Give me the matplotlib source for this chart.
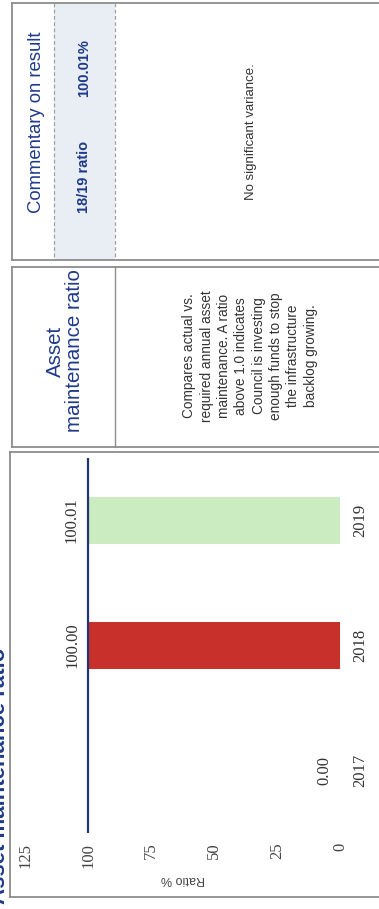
import matplotlib
matplotlib.use('Agg')
import matplotlib.pyplot as plt
from matplotlib.lines import Line2D
from matplotlib.patches import Rectangle

# Asset maintenance ratio by year (%)
years = ['2017', '2018', '2019']
ratios = [0.00, 100.00, 100.01]
target = 100
bar_colors = ['#c8312b', '#c8312b', '#cbebc0']
value_ticks = [0, 25, 50, 75, 100, 125]

title = 'Asset maintenance ratio'
measure_name = 'Asset\nmaintenance ratio'
description = ('Compares actual vs.\nrequired annual asset\nmaintenance. A ratio\n'
               'above 1.0 indicates\nCouncil is investing\nenough funds to stop\n'
               'the infrastructure\nbacklog growing.')
commentary_header = 'Commentary on result'
result_label = '18/19 ratio'
result_value = '100.01%'
commentary = 'No significant variance.'

W, H = 379, 909
NAVY = '#1f3a8a'
BORDER = '#8c8c8c'


def fx(x):
    return x / W


def fy(y):
    return 1 - y / H


def vline(fig, x, y0, y1, **kw):
    fig.add_artist(Line2D([fx(x), fx(x)], [fy(y0), fy(y1)], transform=fig.transFigure, **kw))


def hline(fig, y, x0, x1, **kw):
    fig.add_artist(Line2D([fx(x0), fx(x1)], [fy(y), fy(y)], transform=fig.transFigure, **kw))


def box(fig, x0, y0, x1, y1, **kw):
    vline(fig, x0, y0, y1, **kw)
    hline(fig, y0, x0, x1, **kw)
    hline(fig, y1, x0, x1, **kw)


fig = plt.figure(figsize=(W / 100, H / 100), dpi=100)
fig.patch.set_facecolor('white')

# panel outlines (page is turned on its side, right edges run off the page)
box(fig, 10, 452, 400, 897, color=BORDER, lw=1.3)
box(fig, 12, 267, 400, 447, color=BORDER, lw=1.3)
box(fig, 12, 3, 400, 260, color=BORDER, lw=1.3)
vline(fig, 115, 267, 447, color=BORDER, lw=1.0)

# shaded result band in the commentary table
fig.add_artist(Rectangle((fx(54), fy(260)), fx(115) - fx(54), fy(3) - fy(260),
                         transform=fig.transFigure, facecolor='#e9eef4', edgecolor='none', zorder=0))
vline(fig, 54, 3, 260, color='#a0a0a0', lw=0.9, ls=(0, (3, 2)))
vline(fig, 115, 3, 260, color='#a0a0a0', lw=0.9, ls=(0, (3, 2)))

# page title, partly off the left edge
fig.text(fx(0), fy(648), title, rotation=90, ha='center', va='top',
         fontsize=16, fontweight='bold', color=NAVY, family='Liberation Sans')

# measure description table
fig.text(fx(65), fy(351), measure_name, rotation=90, ha='center', va='center',
         fontsize=14.8, color=NAVY, family='Liberation Sans', multialignment='center',
         linespacing=0.95)
fig.text(fx(250), fy(356), description, rotation=90, ha='center', va='center',
         fontsize=9.8, color='#333333', family='Liberation Sans', multialignment='center',
         linespacing=1.3)

# commentary table
fig.text(fx(37), fy(122), commentary_header, rotation=90, ha='center', va='center',
         fontsize=13.3, color=NAVY, family='Liberation Sans')
fig.text(fx(84), fy(177), result_label, rotation=90, ha='center', va='center',
         fontsize=10.5, fontweight='bold', color=NAVY, family='Liberation Sans')
fig.text(fx(84), fy(68), result_value, rotation=90, ha='center', va='center',
         fontsize=10.5, fontweight='bold', color=NAVY, family='Liberation Sans')
fig.text(fx(251), fy(132), commentary, rotation=90, ha='center', va='center',
         fontsize=9.5, color='#333333', family='Liberation Sans')

# chart: bars run right-to-left, categories bottom-to-top
ax = fig.add_axes([fx(25), fy(833), fx(340) - fx(25), fy(458) - fy(833)])
ypos = list(range(len(years)))
ax.barh(ypos, ratios, height=0.37, color=bar_colors, zorder=2)
ax.axvline(target, color='#24346e', lw=1.6, zorder=3)
ax.set_xlim(125, 0)
ax.set_ylim(-0.5, 2.5)

for y, v in zip(ypos, ratios):
    ax.annotate(f'{v:.2f}', xy=(v, y), xytext=(-8, 0), textcoords='offset pixels',
                rotation=90, ha='right', va='center', fontsize=12,
                family='Liberation Serif', color='#333333')

ax.set_xticks(value_ticks)
ax.set_xticklabels([str(t) for t in value_ticks], rotation=90, family='Liberation Serif',
                   fontsize=12, color='#444444')
ax.set_yticks(ypos)
ax.set_yticklabels(years, rotation=90, va='center', family='Liberation Serif',
                   fontsize=12, color='#333333')
ax.yaxis.tick_right()
ax.tick_params(axis='both', length=0)
ax.tick_params(axis='x', pad=7)
ax.tick_params(axis='y', pad=9)
ax.set_xlabel('Ratio %', rotation=180, fontsize=9, color='#444444',
              family='Liberation Sans', labelpad=4)
for s in ax.spines.values():
    s.set_visible(False)

fig.savefig('out.png', dpi=100)
